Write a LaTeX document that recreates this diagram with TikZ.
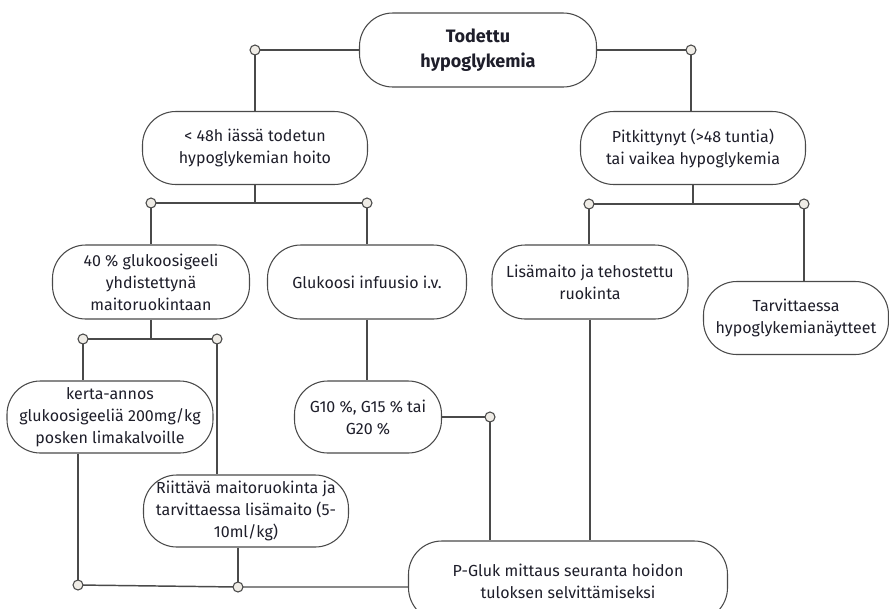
\documentclass[tikz,border=0pt]{standalone}
\usepackage{fontspec}
\setmainfont{Fira Sans}
\definecolor{linec}{HTML}{4A4A4A}
\definecolor{dotfill}{HTML}{EFECE6}
\definecolor{txtc}{HTML}{1E1E2A}
\tikzset{
  box/.style={draw=linec, line width=0.8pt, fill=white, rounded corners=25pt, align=center, inner sep=0pt, text=txtc,
    font=\fontsize{12}{16.5}\selectfont},
  conn/.style={draw=linec, line width=1.1pt},
  dot/.style={circle, draw=linec, line width=0.8pt, fill=dotfill, minimum size=7.5pt, inner sep=0pt}
}
\begin{document}
\begin{tikzpicture}[x=0.75pt, y=-0.75pt]
\useasboundingbox (0,0) rectangle (889,608);
\clip (0,0) rectangle (889,608);
% nodes
\node[box, minimum width=177.75pt, minimum height=55.5pt, font=\fontsize{13.5}{18.75}\selectfont\bfseries] (top) at (478,50) {Todettu\\hypoglykemia};
\node[box, minimum width=168.75pt, minimum height=54.75pt] (n2) at (255,148) {< 48h iässä todetun\\hypoglykemian hoito};
\node[box, minimum width=168.75pt, minimum height=54.75pt] (n3) at (693,148) {Pitkittynyt (>48 tuntia)\\tai vaikea hypoglykemia};
\node[box, minimum width=147.75pt, minimum height=55.5pt] (n4) at (151,282) {40 \% glukoosigeeli\\yhdistettynä\\maitoruokintaan};
\node[box, minimum width=149.25pt, minimum height=55.5pt] (n5) at (367,282) {Glukoosi infuusio i.v.};
\node[box, minimum width=147pt, minimum height=55.5pt] (n6) at (590,282) {Lisämaito ja tehostettu\\ruokinta};
\node[box, minimum width=138.75pt, minimum height=54.75pt] (n7) at (796,318) {Tarvittaessa\\hypoglykemianäytteet};
\node[box, minimum width=154.5pt, minimum height=54pt] (n8) at (110,417) {kerta-annos\\glukoosigeeliä 200mg/kg\\posken limakalvoille};
\node[box, minimum width=153.75pt, minimum height=54pt] (n9) at (246,511) {Riittävä maitoruokinta ja\\tarvittaessa lisämaito (5-\\10ml/kg)};
\node[box, minimum width=110.25pt, minimum height=54pt] (n10) at (368,417) {G10 \%, G15 \% tai\\G20 \%};
\node[box, minimum width=239.25pt, minimum height=60pt] (n11) at (568,581) {P-Gluk mittaus seuranta hoidon\\tuloksen selvittämiseksi};
% junction coordinates
\coordinate (c1) at (255,50);
\coordinate (c2) at (691,50);
\coordinate (c3) at (151,203);
\coordinate (c4) at (367,203);
\coordinate (c5) at (589,204);
\coordinate (c6) at (804,204);
\coordinate (c7) at (83,339);
\coordinate (c8) at (217,339);
\coordinate (c9) at (78,585);
\coordinate (c10) at (238,587);
\coordinate (c11) at (490,417);
% connectors
\draw[conn] (top.west) -- (c1) -- (c1 |- n2.north);
\draw[conn] (top.east) -- (c2) -- (c2 |- n3.north);
\draw[conn] (n2.south) -- (n2.south |- c3);
\draw[conn] (c3) -- (c4);
\draw[conn] (c3) -- (c3 |- n4.north);
\draw[conn] (c4) -- (c4 |- n5.north);
\draw[conn] (n3.south) -- (n3.south |- c5);
\draw[conn] (c5) -- (c6);
\draw[conn] (c5) -- (c5 |- n6.north);
\draw[conn] (c6) -- (c6 |- n7.north);
\draw[conn] (n4.south) -- (n4.south |- c7);
\draw[conn] (c7) -- (c8);
\draw[conn] (c7) -- (c7 |- n8.north);
\draw[conn] (c8) -- (c8 |- n9.north);
\draw[conn] (c9 |- n8.south) -- (c9);
\draw[conn] (c10 |- n9.south) -- (c10);
\draw[conn] (c9) -- (c10) -- (c10 -| n11.west);
\draw[conn] (n5.south) -- (n5.south |- n10.north);
\draw[conn] (n10.east) -- (c11) -- (c11 |- n11.north);
\draw[conn] (n6.south) -- (n6.south |- n11.north);
% dots
\foreach \c in {c1,c2,c3,c4,c5,c6,c7,c8,c9,c10,c11} \node[dot] at (\c) {};
\end{tikzpicture}
\end{document}
